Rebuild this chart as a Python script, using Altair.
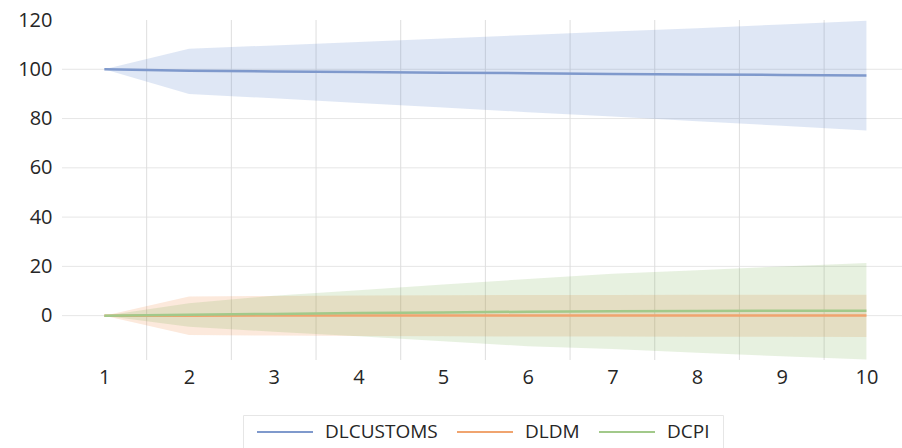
import altair as alt
import pandas as pd

# Impulse responses over 10 periods with their confidence bands
steps = [1, 2, 3, 4, 5, 6, 7, 8, 9, 10]
series_names = ["DLCUSTOMS", "DLDM", "DCPI"]

customs_mid = [100, 99.4, 99.1, 98.9, 98.6, 98.4, 98.1, 97.9, 97.7, 97.5]
customs_lo = [100, 90.0, 88.2, 86.3, 84.5, 82.6, 80.8, 78.9, 77.1, 75.2]
customs_hi = [100, 108.3, 109.7, 111.1, 112.5, 113.9, 115.3, 116.7, 118.2, 119.7]

ldm_mid = [0, 0.0, 0.1, 0.1, 0.1, 0.1, 0.1, 0.1, 0.1, 0.1]
ldm_lo = [0, -7.9, -8.1, -8.3, -8.4, -8.5, -8.5, -8.6, -8.6, -8.7]
ldm_hi = [0, 7.8, 8.0, 8.2, 8.3, 8.4, 8.4, 8.5, 8.5, 8.5]

cpi_mid = [0, 0.4, 0.7, 1.1, 1.3, 1.6, 1.8, 1.9, 2.0, 2.0]
cpi_lo = [0, -4.5, -6.5, -8.4, -10.4, -12.4, -13.5, -15.1, -16.5, -17.8]
cpi_hi = [0, 5.0, 8.1, 10.3, 12.6, 14.9, 17.0, 18.4, 20.0, 21.4]

y_ticks = [0, 20, 40, 60, 80, 100, 120]
h_grid = [0, 20, 40, 60, 80, 100]
v_grid = [1.5, 2.5, 3.5, 4.5, 5.5, 6.5, 7.5, 8.5, 9.5]

line_colors = ["#7f99cc", "#f0a46f", "#a2c98a"]
band_colors = ["#4472c4", "#ed7d31", "#70ad47"]

rows = []
for name, mid, lo, hi in [
    ("DLCUSTOMS", customs_mid, customs_lo, customs_hi),
    ("DLDM", ldm_mid, ldm_lo, ldm_hi),
    ("DCPI", cpi_mid, cpi_lo, cpi_hi),
]:
    for s, m, l, h in zip(steps, mid, lo, hi):
        rows.append({"series": name, "step": s, "mid": m, "lo": l, "hi": h})
df = pd.DataFrame(rows)

FONT = "Open Sans"
W, H = 840, 340

x_scale = alt.Scale(domain=[0.5, 10.42], nice=False, zero=False)
y_scale = alt.Scale(domain=[-18, 120], nice=False, zero=False)

x_axis = alt.Axis(values=steps, grid=False, ticks=False, domain=False,
                  labelFontSize=20, labelFont=FONT, labelColor="#262626",
                  labelPadding=7, title=None, labelFlush=False)
y_axis = alt.Axis(values=y_ticks, grid=False, ticks=False, domain=False,
                  labelFontSize=20, labelFont=FONT, labelColor="#262626",
                  labelPadding=10, title=None)

X = lambda f: alt.X(f, scale=x_scale, axis=x_axis, title=None)
Y = lambda f: alt.Y(f, scale=y_scale, axis=y_axis, title=None)

vgrid = alt.Chart(pd.DataFrame({"g": v_grid})).mark_rule(
    color="#dedede", strokeWidth=1
).encode(x=X("g:Q"), y=alt.value(0), y2=alt.value(H))

hgrid = alt.Chart(pd.DataFrame({"g": h_grid})).mark_rule(
    color="#e6e6e6", strokeWidth=1
).encode(y=Y("g:Q"), x=alt.value(0), x2=alt.value(W))

# confidence bands, drawn blue, orange, then green on top
band_layers = []
for name, col in zip(series_names, band_colors):
    band_layers.append(
        alt.Chart(df[df["series"] == name]).mark_area(
            color=col, fillOpacity=0.17, opacity=1
        ).encode(x=X("step:Q"), y=Y("lo:Q"), y2="hi:Q")
    )

lines = alt.Chart(df).mark_line(strokeWidth=2.5).encode(
    x=X("step:Q"),
    y=Y("mid:Q"),
    stroke=alt.Stroke(
        "series:N",
        scale=alt.Scale(domain=series_names, range=line_colors),
        sort=series_names,
        legend=alt.Legend(
            title=None,
            orient="none",
            direction="horizontal",
            legendX=181,
            legendY=395,
            padding=13,
            strokeColor="#e6e6e6",
            symbolType="stroke",
            symbolSize=3136,
            symbolStrokeWidth=2,
            clipHeight=8,
            labelFont=FONT,
            labelFontSize=19,
            labelColor="#262626",
            labelOffset=11,
            columnPadding=18,
        ),
    ),
)

chart = alt.layer(hgrid, vgrid, *band_layers, lines).properties(
    width=W,
    height=H,
    autosize=alt.AutoSizeParams(type="none"),
    padding={"left": 62, "top": 20, "right": 0, "bottom": 88},
    background="white",
).configure_view(stroke=None)

chart.save("out.html", embed_options={"renderer": "svg", "actions": False})
